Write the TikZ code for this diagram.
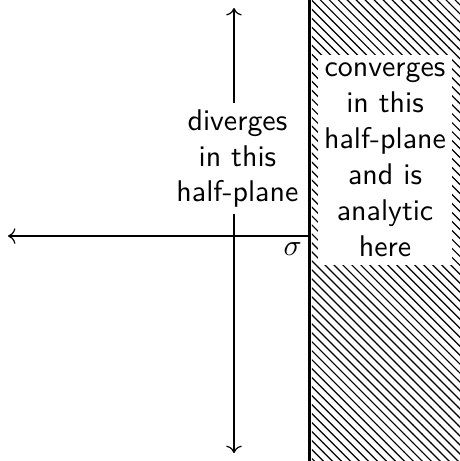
\documentclass[tikz,border=0pt]{standalone}
\usepackage{amsmath}
\usepackage{amssymb}
\usetikzlibrary{arrows.meta,positioning,patterns}

\begin{document}
\begin{tikzpicture}[
    region/.style={rectangle, fill=white, align=center, font=\sffamily, inner sep=1pt},
    axis/.style={thin, draw=black},
    abscissa/.style={line width=1pt}
]
\useasboundingbox (-2.747,-2.641) rectangle (2.653,2.771);

% half-plane of convergence
\fill[pattern=north west lines] (0.915,-2.641) rectangle (2.653,2.771);

\coordinate (top)    at (0,2.677);
\coordinate (bottom) at (0,-2.548);
\coordinate (left)   at (-2.653,0);
\coordinate (sigma)  at (0.892,0);
\coordinate (sigtop) at (0.892,2.771);
\coordinate (sigbot) at (0.892,-2.641);

\draw[axis,<->] (bottom) -- (top);
\draw[axis,->] (sigma) -- (left);
\draw[abscissa] (sigbot) -- (sigtop);

\node[region, inner sep=2pt] (div) at (0.04,0.91) {diverges\\in this\\half-plane};
\node[region, minimum width=1.57cm, minimum height=2.47cm] (conv) at (1.773,0.892)
    {converges\\in this\\half-plane\\and is\\analytic\\here};
\node[below left=2pt and 2.5pt of sigma, inner sep=0pt] (lab) {$\sigma$};
\end{tikzpicture}
\end{document}
